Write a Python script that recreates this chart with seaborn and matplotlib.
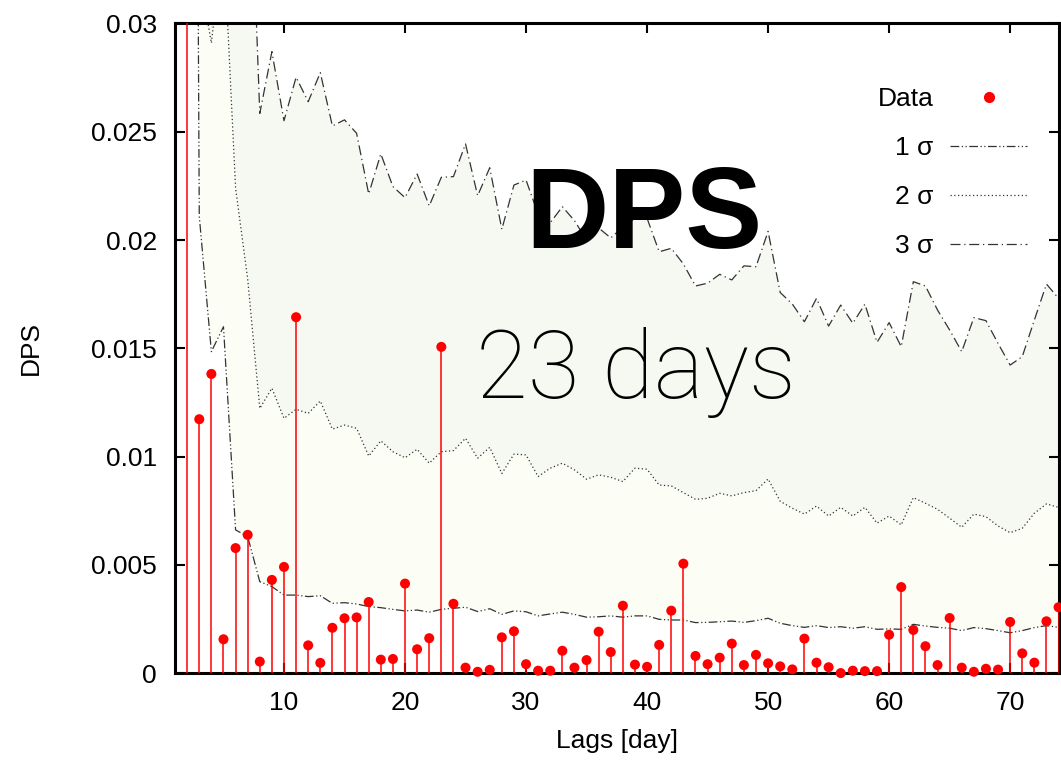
import numpy as np
import matplotlib.pyplot as plt
import seaborn as sns
from matplotlib.lines import Line2D

# lags of the sigma envelopes
lags = list(range(1, 75))

# 1 sigma envelope
sig1 = [0.2, 0.13, 0.0211, 0.01485, 0.016, 0.00662, 0.00631, 0.00423, 0.004, 0.00361,
        0.00361, 0.00354, 0.00358, 0.00323, 0.00326, 0.0032, 0.00308, 0.00303, 0.00295, 0.00288,
        0.00292, 0.00282, 0.00295, 0.003, 0.00305, 0.00285, 0.00298, 0.00272, 0.00288, 0.00284,
        0.00265, 0.00274, 0.00282, 0.00272, 0.00259, 0.00261, 0.00265, 0.00259, 0.00265, 0.00265,
        0.00249, 0.00246, 0.00246, 0.00234, 0.00235, 0.00238, 0.00241, 0.00235, 0.00243, 0.00254,
        0.00231, 0.0022, 0.00212, 0.0022, 0.00211, 0.00215, 0.00208, 0.00215, 0.00203, 0.00205,
        0.00203, 0.00226, 0.00218, 0.00212, 0.00208, 0.00197, 0.00211, 0.00206, 0.00197, 0.00187,
        0.00197, 0.00211, 0.0022, 0.00212]

# 2 sigma envelope
sig2 = [0.1, 0.06, 0.0323, 0.0291, 0.034, 0.0224, 0.0182, 0.01223, 0.01316, 0.01177,
        0.01219, 0.012, 0.01257, 0.01127, 0.01146, 0.01131, 0.01003, 0.01073, 0.01023, 0.00995,
        0.01034, 0.0097, 0.01023, 0.01028, 0.01085, 0.00993, 0.01043, 0.00922, 0.01012, 0.01008,
        0.00908, 0.00947, 0.0097, 0.00939, 0.00896, 0.00916, 0.00905, 0.00885, 0.00947, 0.00942,
        0.00869, 0.00865, 0.00834, 0.00803, 0.00808, 0.00831, 0.00819, 0.00834, 0.00843, 0.00897,
        0.00794, 0.00762, 0.00735, 0.00772, 0.00726, 0.00766, 0.00726, 0.00766, 0.00693, 0.00726,
        0.00685, 0.00811, 0.00785, 0.00757, 0.00716, 0.00674, 0.00735, 0.00723, 0.0068, 0.00649,
        0.00669, 0.00739, 0.00782, 0.00766]

# 3 sigma envelope
sig3 = [0.25, 0.2, 0.12, 0.08, 0.06, 0.05, 0.041, 0.02585, 0.0287, 0.02551,
        0.02752, 0.02639, 0.02773, 0.02527, 0.02555, 0.02493, 0.02213, 0.02398, 0.02247, 0.02196,
        0.02305, 0.02158, 0.0229, 0.02293, 0.02444, 0.02205, 0.02334, 0.0205, 0.02254, 0.02277,
        0.0212, 0.0208, 0.02154, 0.0209, 0.02, 0.02056, 0.0201, 0.0206, 0.02101, 0.02101,
        0.01946, 0.01962, 0.0189, 0.01788, 0.01801, 0.01842, 0.01816, 0.01881, 0.01877, 0.0204,
        0.01758, 0.01705, 0.01623, 0.01731, 0.01603, 0.017, 0.01616, 0.01704, 0.01528, 0.01619,
        0.01508, 0.01808, 0.01788, 0.01677, 0.01585, 0.01485, 0.01642, 0.01628, 0.01523, 0.01423,
        0.01462, 0.01631, 0.01797, 0.01731]

# DPS data
dps_lags = list(range(2, 75))
dps = [0.045, 0.01173, 0.01382, 0.00157, 0.00578, 0.00639, 0.00054, 0.00431, 0.00491,
       0.01644, 0.00129, 0.00048, 0.0021, 0.00254, 0.00258, 0.00329, 0.00063, 0.00066, 0.00414,
       0.00111, 0.00162, 0.01507, 0.00321, 0.00026, 0.00007, 0.00016, 0.00166, 0.00194, 0.00042,
       0.00012, 0.00012, 0.00104, 0.00026, 0.00061, 0.00192, 0.00098, 0.00312, 0.0004, 0.0003,
       0.00131, 0.00289, 0.00506, 0.0008, 0.00042, 0.00072, 0.00137, 0.00038, 0.00085, 0.00046,
       0.00032, 0.00018, 0.0016, 0.00049, 0.00028, 0.00001, 0.00012, 0.0001, 0.0001, 0.00178,
       0.00398, 0.002, 0.00125, 0.00038, 0.00255, 0.00026, 0.00007, 0.00021, 0.00017, 0.00237,
       0.00092, 0.00049, 0.0024, 0.00305]

yticks = [0, 0.005, 0.01, 0.015, 0.02, 0.025, 0.03]
yticklabels = ['0', '0.005', '0.01', '0.015', '0.02', '0.025', '0.03']
xticks = [10, 20, 30, 40, 50, 60, 70]

sns.set_style('ticks')
plt.rcParams['font.family'] = ['Liberation Sans', 'DejaVu Sans']
plt.rcParams['text.color'] = 'black'
plt.rcParams['axes.labelcolor'] = 'black'
plt.rcParams['xtick.color'] = 'black'
plt.rcParams['ytick.color'] = 'black'

fig = plt.figure(figsize=(10.61, 7.6), dpi=100)
ax = fig.add_axes([0.165, 0.1141, 0.8327, 0.855])

# bandas entre os sigmas
ax.fill_between(lags, sig1, sig2, color='#fcfdf4', lw=0, zorder=0)
ax.fill_between(lags, sig2, sig3, color='#f5f9f1', lw=0, zorder=0)

ls1 = (0, (7, 2, 1, 2, 1, 2))
ls2 = (0, (1, 2))
ls3 = (0, (8, 3, 1, 3))
lc = '#333333'
sns.lineplot(x=lags, y=sig1, ax=ax, color=lc, lw=0.9, linestyle=ls1)
sns.lineplot(x=lags, y=sig2, ax=ax, color=lc, lw=0.9, linestyle=ls2)
sns.lineplot(x=lags, y=sig3, ax=ax, color=lc, lw=0.9, linestyle=ls3)

# stems + pontos
ax.vlines(dps_lags, 0, dps, color='red', lw=1.1, zorder=3)
mask = np.array(dps) < 0.03
sns.scatterplot(x=np.array(dps_lags)[mask], y=np.array(dps)[mask], ax=ax, color='red',
                s=52, edgecolor='none', zorder=4, clip_on=False)

ax.set_xlim(1, 74)
ax.set_ylim(0, 0.03)
ax.set_xticks(xticks)
ax.set_yticks(yticks)
ax.set_yticklabels(yticklabels)
ax.tick_params(direction='in', length=7, width=1.5, top=True, right=True,
               labelsize=19, pad=13, color='black', labelcolor='black')
for sp in ax.spines.values():
    sp.set_linewidth(2.2)
    sp.set_color('black')

ax.set_xlabel('Lags [day]', fontsize=19, labelpad=10)
ax.set_ylabel('DPS', fontsize=19, labelpad=35)

handles = [
    Line2D([], [], color='red', marker='o', ls='none', markersize=7),
    Line2D([], [], color=lc, lw=0.9, ls=ls1),
    Line2D([], [], color=lc, lw=0.9, ls=ls2),
    Line2D([], [], color=lc, lw=0.9, ls=ls3),
]
ax.legend(handles, ['Data', '1 σ', '2 σ', '3 σ'], loc='upper right',
          bbox_to_anchor=(1027 / 1061, 1 - 87 / 760), bbox_transform=fig.transFigure,
          frameon=False, markerfirst=False, fontsize=19, handlelength=2.9,
          handletextpad=0.65, labelspacing=0.95, borderpad=0, borderaxespad=0, numpoints=1)

fig.text(525 / 1061, 1 - 248 / 760, 'DPS', fontsize=83, fontweight='bold',
         va='baseline', ha='left', color='black')
fig.text(476 / 1061, 1 - 398 / 760, '23 days', fontsize=68, fontweight='light',
         family=['Roboto', 'Liberation Sans'], va='baseline', ha='left', color='black')

fig.savefig('out.png', dpi=100)
